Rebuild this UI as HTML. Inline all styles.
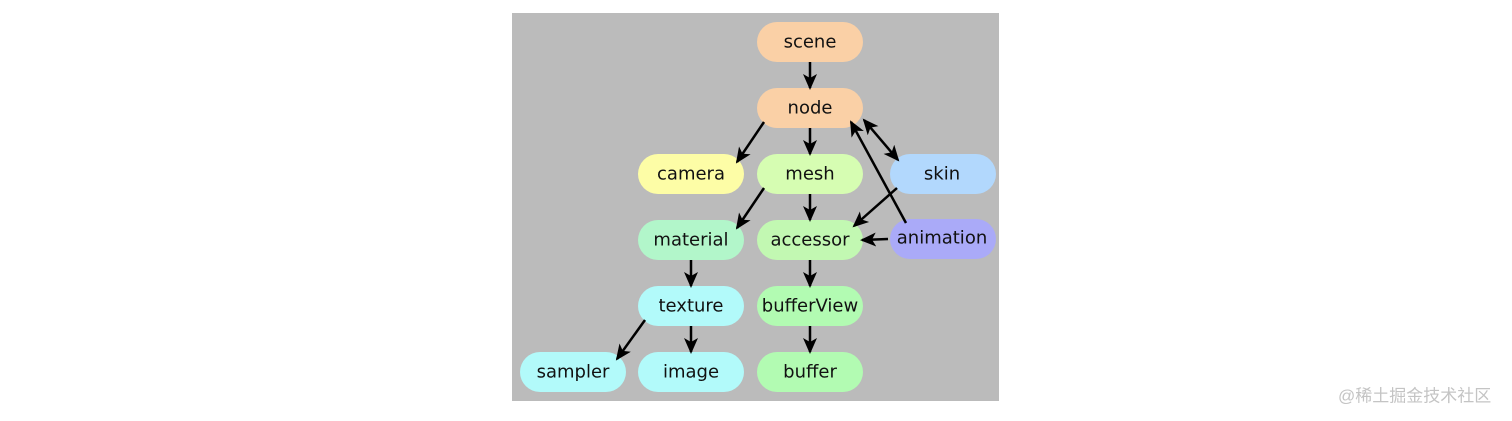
<!DOCTYPE html>
<html><head><meta charset="utf-8"><style>
html,body{margin:0;padding:0;background:#fff;width:1512px;height:421px;overflow:hidden}
svg{position:absolute;left:0;top:0}
text{font-family:"DejaVu Sans","Liberation Sans",sans-serif;font-size:18px;fill:#111;text-anchor:middle;dominant-baseline:central}
.wm{font-family:"Liberation Sans","Noto Sans CJK SC",sans-serif;font-size:17px;fill:#c4c4c4;text-anchor:start}
</style></head><body>
<svg width="1512" height="421" viewBox="0 0 1512 421">
<defs>
<marker id="b" markerWidth="16" markerHeight="16" refX="14" refY="8" orient="auto-start-reverse" markerUnits="userSpaceOnUse" viewBox="0 0 16 16"><path d="M0,1 L16,8 L0,15 L4,8 Z" fill="#000"/></marker></defs>
<rect x="512" y="13" width="487" height="388" fill="#bbbbbb"/>
<g>
<rect x="757" y="22" width="106" height="40" rx="20" fill="#fad0a6"/><text x="810" y="42">scene</text>
<rect x="757" y="88" width="106" height="40" rx="20" fill="#fad0a6"/><text x="810" y="108">node</text>
<rect x="638" y="154" width="106" height="40" rx="20" fill="#fdfda6"/><text x="691" y="174">camera</text>
<rect x="757" y="154" width="106" height="40" rx="20" fill="#d6fdb2"/><text x="810" y="174">mesh</text>
<rect x="890" y="154" width="106" height="40" rx="20" fill="#b2d8fd"/><text x="942" y="174">skin</text>
<rect x="638" y="220" width="106" height="40" rx="20" fill="#b2f6ca"/><text x="691" y="240">material</text>
<rect x="757" y="220" width="106" height="40" rx="20" fill="#c2f8b2"/><text x="810" y="240">accessor</text>
<rect x="890" y="219" width="106" height="40" rx="20" fill="#aaaaf8"/><text x="942" y="238">animation</text>
<rect x="638" y="286" width="106" height="40" rx="20" fill="#b2fafa"/><text x="691" y="306">texture</text>
<rect x="757" y="286" width="106" height="40" rx="20" fill="#b2fbb2"/><text x="810" y="306">bufferView</text>
<rect x="520" y="352" width="106" height="40" rx="20" fill="#b2fafa"/><text x="573" y="372">sampler</text>
<rect x="638" y="352" width="106" height="40" rx="20" fill="#b2fafa"/><text x="691" y="372">image</text>
<rect x="757" y="352" width="106" height="40" rx="20" fill="#b2fbb2"/><text x="810" y="372">buffer</text>
</g>
<g stroke="#000" stroke-width="2.5" fill="none" marker-end="url(#b)">
<line x1="810" y1="62" x2="810" y2="88"/>
<line x1="764" y1="122" x2="737" y2="162"/>
<line x1="810" y1="128" x2="810" y2="154"/>
<line x1="864" y1="120" x2="898" y2="160" marker-start="url(#b)"/>
<line x1="906" y1="223" x2="851" y2="122"/>
<line x1="764" y1="188" x2="737" y2="228"/>
<line x1="810" y1="194" x2="810" y2="220"/>
<line x1="897" y1="188" x2="854" y2="226"/>
<line x1="888" y1="239" x2="862" y2="240"/>
<line x1="691" y1="260" x2="691" y2="286"/>
<line x1="810" y1="260" x2="810" y2="286"/>
<line x1="645" y1="320" x2="617" y2="359"/>
<line x1="691" y1="326" x2="691" y2="352"/>
<line x1="810" y1="326" x2="810" y2="352"/>
</g>
<text class="wm" x="1338" y="396">@稀土掘金技术社区</text>
</svg>
</body></html>
